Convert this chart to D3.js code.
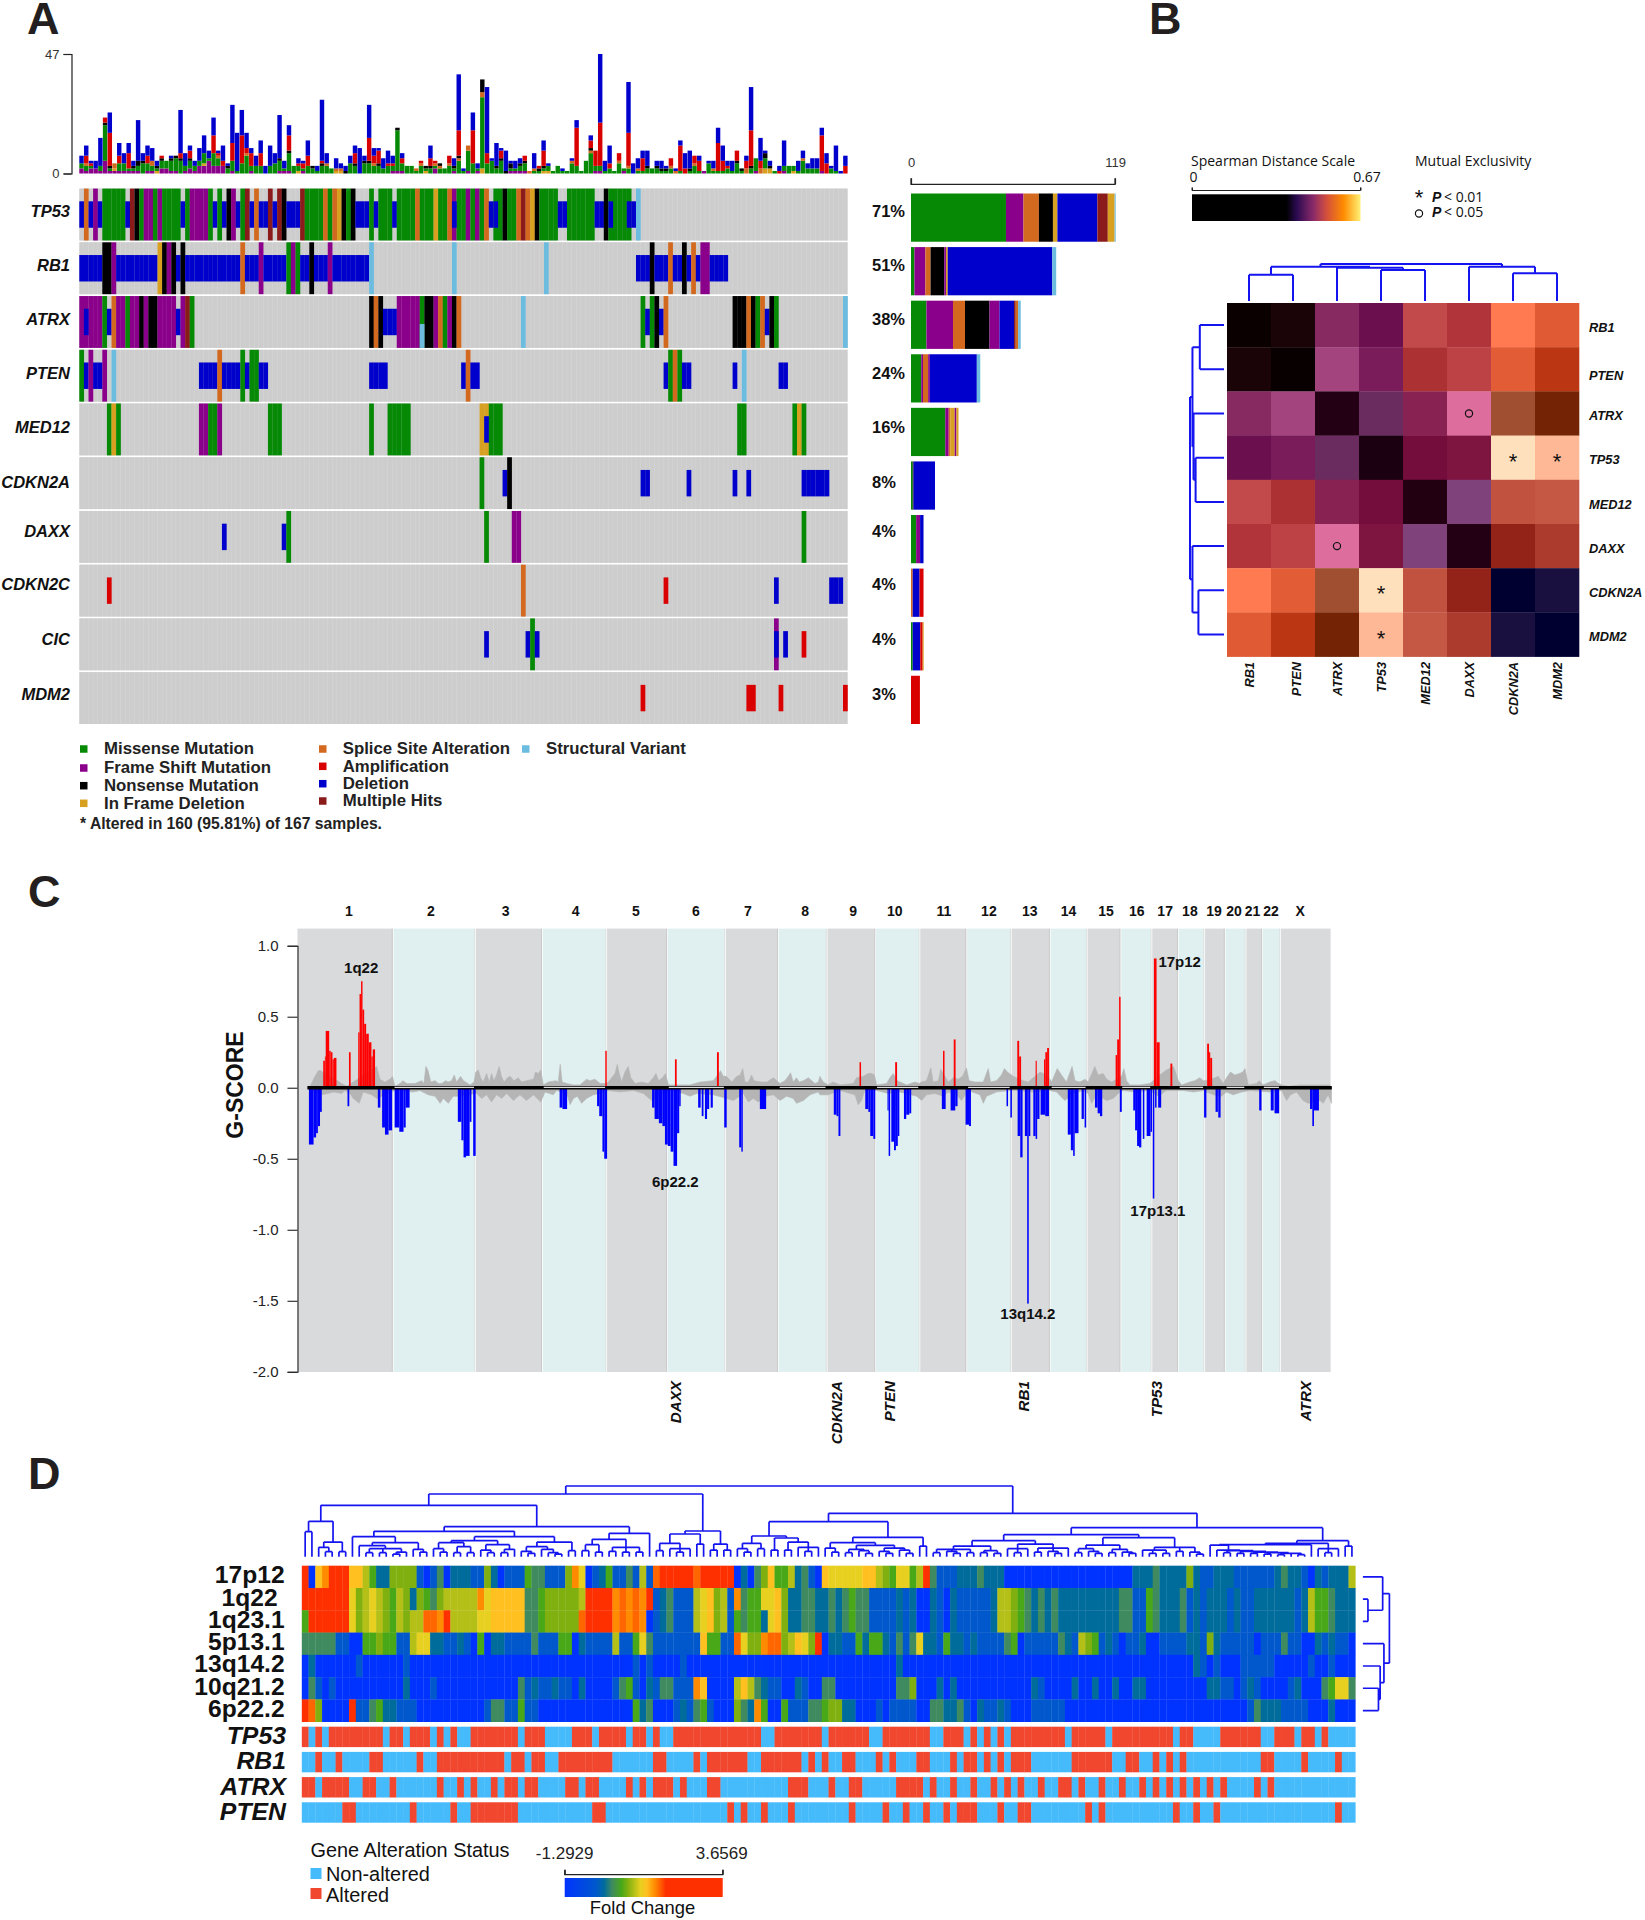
<!DOCTYPE html>
<html><head><meta charset="utf-8"><title>Genomic landscape</title>
<script src="https://cdn.jsdelivr.net/npm/d3@7"></script>
<style>body{margin:0;background:#fff}text{font-family:"Liberation Sans",Arial,sans-serif;fill:#111}</style>
</head><body><div id="c"></div><script>
// ---------- Panel A data ----------
const genes=["TP53","RB1","ATRX","PTEN","MED12","CDKN2A","DAXX","CDKN2C","CIC","MDM2"];
const percents=["71%","51%","38%","24%","16%","8%","4%","4%","4%","3%"];
const sampleCount=167;
const onco_TP53="D0 S1 D2 F3 D4 M5 D10 H11 N12 M13 F14 M16 F17 M18 D22 M23 F24 M28 D29 M30 D31 N32 F33 D34 M35 H36 D37 S38 D39 H41 D42 H43 N44 D45 H48 M49 S53 M54 S55 I56 N57 M58 N59 D60 M63 D64 M65 D68 M69 S73 M74 I77 M78 S80 F81 M82 F84 M85 F86 M87 S88 D89 M90 N92 M93 S95 H96 S97 I98 N99 M100 D104 M106 D112 N114 M115 D120 V121 .122";
const onco_RB1="D0 N5 F7 D8 I17 N18 F19 N20 D21 N22 D23 S35 D36 F39 D40 M45 F46 M47 D48 N50 D51 F54 D55 V63 .64 V81 .82 V101 .102 D121 N124 D125 S128 D129 N131 D132 S133 D134 F135 D137 .141";
const onco_ATRX="F0 M5 D6 S7 F8 M10 F11 N13 F14 N15 F17 D21 F22 H23 M24 .25 N63 S64 N65 D66 F69 M74 N75 F77 S78 M79 F80 N81 S82 .83 V96 .97 M122 D123 M124 N125 D126 S127 .128 N142 S145 N146 M147 S148 D149 N150 M151 .152 V166";
const onco_PTEN="M0 D1 F2 D3 F5 .6 V7 .8 D26 S30 D31 M35 D36 M37 D39 .41 D63 .67 D83 S84 D85 .87 D127 M128 S129 M130 D131 .133 D142 .143 V144 .145 D152 .154";
const onco_MED12="M6 I7 M8 .9 F26 M28 F30 .31 M41 .44 M63 .64 M67 .72 I87 M89 .92 M143 .145 M155 I156 M157 .158";
const onco_CDKN2A="M87 .88 D92 N93 .94 D122 .124 D132 .133 D142 .143 D145 .146 D157 .163";
const onco_DAXX="D31 .32 D44 M45 .46 M88 .89 F94 .96 M157 .158";
const onco_CDKN2C="A6 .7 S96 .97 A127 .128 D151 .152 D163 .166";
const onco_CIC="D88 .89 D97 M98 D99 .100 F151 .152 D153 .154 A157 .158";
const onco_MDM2="A122 .123 A145 .147 A152 .153 A166";
const oncoRows=[onco_TP53,onco_RB1,onco_ATRX,onco_PTEN,onco_MED12,onco_CDKN2A,onco_DAXX,onco_CDKN2C,onco_CIC,onco_MDM2];
const oncoOverlays=[["TP53",81,"D"],["TP53",90,"D"],["TP53",115,"D"],["TP53",119,"D"],["ATRX",1,"D"],["ATRX",74,"V"],["MED12",88,"D"],["CIC",151,"D"]];
const topBars=["F2M2D3","F1M2S1A3D4","F2M1A1D1","F2D3","F1M2D11","F5M14N1A2","F1M1N1A13D8","F1I1S2","F1M3A3D5","F1M3D4","F1M1A6D4","F1M1N1D2","F1M2N2D16","M4N1D3","F1M3A3D4","F1M2S2D5","I1M1N1D2","F2M3N1A1","F2M3","F1M4N1D1","F1M5N1","M5N1A2D17","F1M2D5","F2M3N1A3D2","F1M2D2","F3M2D5","F3M4I1D7","F5M1D3","F3M5A7D7","F3M3S1A1D1","F3A2D6","M2N1D1","F1M4A7D15","M1D15","M4A11D10","M7S1A2D6","F1M2A5D2","M3D4","M3A5D5","D3","M3D8","M4D4","F1M4N1D17","F1M1D3","F1M7N1A6D4","M3","I1M2A1D2","F1M1A2D1","M3A4D6","M2N1","M1D2","M3N1A1D24","M3S1D4","M2","S1I1D4","I1S1D2","N1D2","M4D3","M3N1A4D3","D10","M4N1D2","M4N1A9D13",
"M3S1A3D3","M3N1A5D1","M2D4","M3A1D5","F1M2A1D3","F1M16N1","F1M3A2D2","M3","M3","M1S1","M3S1A1","M1I1N1","M2N1A3D5","F2M1S1A1","M2N1S1","M2",
"M3S1A3","F1M1N1D3","M5N1S1A10D22","M1D1","F1M8S2","M4A13D7","F1M1D2","I2M28N5S2","M4A4D26","M5D1","M2N1D9","M5N1A3D1","N1D8","F1M1N2D1","F1M1D3","F1M2N1D2","F1M3N1A2","S1","S1M1D6","M1N1A1","I1M1N1A6D4","I1M2D1","M1","M3","M1D1","M1","M4S1D1","M3A15D3","M1","M5","M8N1S1A3D2","F1M2A6","F1M2A17D27","M1D4","M2A2D7","M1","M4S1A3","F1M1","M2S1A13D20","D4","M1S1D4","M1A5D3","M2N1D6","M2","M2N1D2","M1N1D3","M1N1D1","S1M2A3","S1D1","M1A10D2","A2D6","M1N1D7","M3S1A3","M1A4D2","F1","M4D1","M1S1D3","M1A11D6","M1A4D6","M2A1D2","M1D4","M4N1A4","M1N1","S2A3D2","M2N1A14D17","F1M5","S2A3D9","I2M4N2D1","I2N1D2","M1","A1D2","F1M2D10","M3","M2I1","M1D4","M5S1D3","M2D2","M2D4","M2D4","F1A14D3","A4D4","M2D1","M1D10","D1","A3D4"];
const side_TP53=[["M",55.4],["F",10.2],["S",9],["N",8.2],["I",2.6],["D",23.3],["H",6.1],["I",4],["V",.6]];
const side_RB1=[["M",2],["F",6.4],["S",3],["N",8],["F",1],["I",1],["D",61],["V",2.3]];
const side_ATRX=[["M",9],["F",15.5],["S",7],["N",14.3],["F",5.8],["D",8.5],["H",1],["S",1.4],["V",1.5]];
const side_PTEN=[["M",6],["F",1],["S",3],["F",1],["D",27.4],["V",2]];
const side_MED12=[["M",20],["F",2],["S",1],["I",2.5],["F",1],["I",1.2]];
const side_CDKN2A=[["M",1],["N",.5],["D",12.5]];
const side_DAXX=[["M",3],["F",2.3],["D",2]];
const side_CDKN2C=[["S",1],["D",4],["A",2.3]];
const side_CIC=[["M",1],["D",4.4],["A",1.4],["I",.6]];
const side_MDM2=[["A",5.2]];
const sideBars=[side_TP53,side_RB1,side_ATRX,side_PTEN,side_MED12,side_CDKN2A,side_DAXX,side_CDKN2C,side_CIC,side_MDM2];
const typeCodes=["M","F","N","I","S","A","D","H","V"];
const typeColors=["#068a06","#8b008b","#000000","#d8a021","#d2691e","#d90000","#0000cd","#8b1a1a","#6cbce0"];
const legendCol1=[["M","Missense Mutation"],["F","Frame Shift Mutation"],["N","Nonsense Mutation"],["I","In Frame Deletion"]];
const legendCol2=[["S","Splice Site Alteration"],["A","Amplification"],["D","Deletion"],["H","Multiple Hits"]];
const legendCol3=[["V","Structural Variant"]];
// ---------- Panel B data ----------
const corrGenes=["RB1","PTEN","ATRX","TP53","MED12","DAXX","CDKN2A","MDM2"];
const corrMatrix=[
[.03,.04,.19,.12,.32,.28,.42,.37],
[.04,.02,.25,.14,.26,.30,.38,.29],
[.19,.25,.07,.10,.20,.35,.24,.16],
[.12,.14,.10,.05,.13,.15,.60,.50],
[.32,.26,.20,.13,.06,.18,.31,.33],
[.28,.30,.35,.15,.18,.07,.22,.27],
[.42,.38,.24,.60,.31,.22,.00,.01],
[.37,.29,.16,.50,.33,.27,.01,.00]];
const heatDomain=[0,.01,.02,.03,.04,.05,.06,.07,.10,.12,.13,.14,.15,.16,.18,.19,.20,.22,.24,.25,.26,.27,.28,.29,.30,.31,.32,.33,.35,.37,.38,.42,.50,.60];
const heatRange=["#000030","#1a1040","#080000","#0a0000","#1a0408","#1a0010","#220012","#240014","#6a2c5e","#6b0f4f","#740c3c","#7b1c5a","#7e1440","#742404","#80427a","#872a62","#882253","#932318","#a05030","#a4447f","#ac3132","#ac3a2d","#b03439","#bb3714","#bd4246","#c25240","#c34a4a","#c45845","#dc6d9c","#e05a33","#e25c36","#ff7a50","#ffb896","#ffe0bc"];
const sigStars=[[3,6],[3,7],[6,3],[7,3]];
const sigCircles=[[2,5],[5,2]];
const corrTree=[97,[90,[69,"RB1","PTEN"],[87,"ATRX",[81,"TP53","MED12"]]],[90,"DAXX",[73,"CDKN2A","MDM2"]]];
const spearmanStops=[[0,"#000"],[.56,"#000"],[.62,"#2a0a50"],[.72,"#8a2a6a"],[.8,"#d4503c"],[.9,"#ff8c00"],[1,"#fff176"]];
// ---------- Panel C data ----------
const chromNames=["1","2","3","4","5","6","7","8","9","10","11","12","13","14","15","16","17","18","19","20","21","22","X"];
const chromLengths=[291,250,202,195,184,176,160,148,147,134,142,135,118,112,102,94,80,80,62,63,50,55,154];
const chromLabelPos=[156,404,631,843,1025,1207,1365,1538,1684,1810,1959,2095,2219,2336,2450,2543,2629,2704,2777,2838,2894,2950,3038];
const ampSegments=[[78,83,.19],[83,85.5,.22],[85.5,96,.40],[96,100.6,.26],[100.6,106,.25],[106,110,.20],[110,118,.21],[156,161,.25],[184,188,.39],[188,192.6,.66],[192.6,197,.75],[197,202,.55],[202,208,.45],[208,216,.38],[216,224,.32],[224,228,.22],[228,235,.27],[932.7,937,.26],[1143.7,1149,.20],[1271,1276.7,.25],[1703,1707.6,.18],[1811,1816.7,.18],[1956,1960.5,.26],[1988.4,1994,.34],[2181,2186.7,.33],[2186.7,2192.5,.22],[2236.6,2240,.19],[2262,2266,.20],[2266,2271.4,.25],[2271.4,2277,.28],[2479,2483.7,.23],[2483.7,2489.5,.34],[2489.5,2494,.64],[2595,2603,.91],[2603,2612.4,.32],[2645,2650.7,.17],[2756.3,2762,.31],[2762,2765.6,.25],[2765.6,2771.4,.21]];
const delSegments=[[34.6,48.7,-.40],[48.7,56.3,-.35],[56.3,61.7,-.32],[61.7,68.2,-.27],[68.2,73.6,-.17],[151.5,156.9,-.13],[243.4,251,-.14],[256.4,265,-.28],[265,275.9,-.33],[275.9,286.7,-.30],[294.3,308.4,-.28],[308.4,321.3,-.31],[321.3,327.8,-.28],[327.8,339.7,-.14],[485.8,496.6,-.24],[496.6,503.1,-.37],[503.1,510.7,-.49],[510.7,521.5,-.48],[521.5,527,-.24],[532.3,539.9,-.48],[794.2,802.8,-.14],[802.8,816.9,-.15],[907.8,914.3,-.13],[914.3,924,-.20],[924,929.4,-.45],[929.4,938.1,-.50],[1074.4,1082,-.14],[1082,1095,-.22],[1095,1105.8,-.25],[1105.8,1113.4,-.27],[1113.4,1122,-.40],[1122,1130.7,-.41],[1130.7,1139.3,-.45],[1139.3,1150.2,-.55],[1150.2,1156.6,-.32],[1156.6,1161,-.13],[1214,1221.6,-.14],[1224.8,1230.2,-.20],[1234.5,1241,-.22],[1241,1247.5,-.15],[1251.9,1258.4,-.14],[1293,1300.5,-.28],[1338.4,1344.9,-.42],[1344.9,1349.2,-.45],[1401,1420,-.15],[1625,1633.4,-.19],[1633.4,1639.2,-.20],[1639.2,1645,-.34],[1720.4,1729.7,-.15],[1729.7,1735.5,-.17],[1735.5,1744.8,-.34],[1744.8,1750.6,-.36],[1787.7,1791.2,-.16],[1791.2,1795.8,-.48],[1799.3,1807.4,-.38],[1807.4,1813.2,-.44],[1813.2,1819,-.41],[1819,1823.6,-.34],[1837.6,1844.5,-.22],[1844.5,1853.8,-.19],[1853.8,1859.6,-.18],[1952.4,1964,-.15],[1979,1993,-.16],[1993,2000,-.13],[2024.3,2034.8,-.26],[2034.8,2040.6,-.27],[2148.4,2153,-.13],[2160,2164.7,-.21],[2182,2190,-.34],[2190,2197,-.49],[2204,2211,-.34],[2211,2215.7,-1.52],[2215.7,2220.4,-.34],[2229.6,2236.6,-.34],[2236.6,2241.2,-.36],[2241.2,2248.2,-.22],[2251.7,2265.6,-.19],[2265.6,2277,-.20],[2334,2343.3,-.33],[2343.3,2350.3,-.44],[2350.3,2355,-.48],[2355,2366.5,-.32],[2375.8,2382.8,-.22],[2385,2389.7,-.28],[2416.4,2424.5,-.14],[2424.5,2431.5,-.18],[2431.5,2438.4,-.20],[2491.8,2497.6,-.17],[2532.4,2538,-.16],[2538,2544,-.30],[2544,2549.8,-.41],[2549.8,2556.8,-.42],[2561.4,2566,-.36],[2573,2584.6,-.34],[2584.6,2589.2,-.31],[2591.6,2596.2,-.78],[2598.5,2603,-.14],[2607.8,2617,-.14],[2747,2754,-.21],[2781.8,2788.8,-.17],[2790,2797,-.21],[2914,2921,-.16],[2949,2958,-.16],[2960.4,2974.4,-.18],[3068,3075,-.15],[3075,3080,-.27],[3080,3095,-.16]];
const grayUpper=[[38,.01],[53,.08],[63,.12],[70,.12],[134,.03],[149,.01],[169,.04],[240,.15],[250,.06],[265,.04],[280,.06],[288,.08],[295,.01],[311,.03],[319,.05],[331,.03],[356,.03],[376,.05],[383,.03],[389,.15],[395,.125],[404,.04],[417,.05],[427,.03],[437,.03],[449,.05],[457,.04],[467,.05],[475,.09],[482,.04],[494,.08],[503,.05],[523,.02],[535,.04],[540,.11],[548,.125],[555,.07],[563,.04],[573,.10],[581,.04],[588,.10],[595,.05],[603,.09],[611,.15],[618,.08],[626,.04],[636,.07],[644,.08],[656,.05],[669,.07],[679,.04],[694,.05],[715,.06],[721,.11],[730,.10],[737,.125],[745,.02],[760,.04],[783,.05],[790,.04],[796,.165],[802,.04],[816,.03],[836,.02],[856,.02],[876,.06],[886,.05],[901,.06],[917,.03],[932,.03],[942,.04],[952,.07],[962,.10],[969,.165],[975,.10],[982,.04],[992,.11],[1002,.15],[1010,.07],[1023,.03],[1043,.04],[1063,.03],[1078,.07],[1086,.10],[1094,.05],[1106,.07],[1115,.10],[1124,.02],[1149,.02],[1189,.02],[1220,.04],[1260,.05],[1270,.08],[1282,.12],[1290,.08],[1300,.08],[1316,.04],[1331,.08],[1341,.09],[1349,.135],[1356,.04],[1366,.04],[1376,.09],[1383,.05],[1406,.04],[1422,.04],[1442,.07],[1462,.03],[1477,.05],[1487,.08],[1494,.105],[1502,.04],[1512,.07],[1520,.04],[1533,.05],[1548,.07],[1568,.03],[1578,.04],[1583,.08],[1593,.04],[1608,.02],[1623,.04],[1644,.02],[1684,.03],[1694,.07],[1714,.08],[1729,.10],[1740,.10],[1748,.09],[1755,.02],[1785,.03],[1795,.07],[1805,.10],[1817,.05],[1846,.02],[1871,.04],[1884,.03],[1891,.04],[1906,.05],[1919,.14],[1926,.04],[1942,.05],[1949,.13],[1962,.08],[1972,.04],[1987,.07],[2002,.06],[2015,.08],[2027,.14],[2035,.05],[2053,.04],[2078,.04],[2093,.135],[2100,.04],[2118,.05],[2133,.09],[2142,.135],[2151,.11],[2169,.08],[2199,.05],[2214,.04],[2250,.11],[2260,.10],[2275,.08],[2285,.04],[2302,.135],[2315,.09],[2330,.04],[2347,.15],[2356,.05],[2371,.04],[2386,.06],[2396,.04],[2416,.15],[2426,.09],[2441,.10],[2452,.06],[2467,.04],[2497,.08],[2504,.135],[2512,.05],[2522,.02],[2553,.02],[2583,.03],[2613,.09],[2633,.125],[2654,.15],[2662,.10],[2669,.05],[2679,.02],[2704,.04],[2719,.05],[2734,.07],[2745,.05],[2750,.05],[2780,.07],[2790,.08],[2805,.03],[2815,.07],[2827,.11],[2840,.09],[2854,.10],[2864,.11],[2871,.135],[2881,.02],[2906,.03],[2914,.05],[2926,.02],[2946,.04],[2962,.05],[2972,.03],[2982,.02],[3002,.01],[3037,.02],[3128,.02]];
const grayLower=[[38,-.02],[73,-.05],[93,-.04],[109,-.03],[134,-.04],[144,-.02],[159,-.04],[169,-.075],[187,-.11],[199,-.03],[225,-.05],[240,-.075],[295,-.02],[351,-.03],[371,-.02],[396,-.05],[417,-.06],[432,-.11],[442,-.075],[457,-.11],[472,-.06],[487,-.06],[543,-.04],[558,-.075],[573,-.05],[588,-.10],[603,-.05],[619,-.075],[634,-.04],[654,-.09],[674,-.05],[694,-.09],[715,-.05],[737,-.10],[750,-.03],[775,-.05],[785,-.02],[816,-.04],[826,-.12],[836,-.075],[848,-.06],[861,-.11],[876,-.075],[896,-.05],[917,-.04],[942,-.02],[977,-.03],[1018,-.02],[1048,-.04],[1073,-.09],[1129,-.02],[1169,-.04],[1189,-.06],[1210,-.04],[1260,-.05],[1300,-.075],[1321,-.09],[1351,-.04],[1366,-.10],[1381,-.075],[1396,-.10],[1417,-.06],[1442,-.05],[1462,-.09],[1482,-.06],[1502,-.075],[1512,-.11],[1533,-.09],[1553,-.05],[1578,-.03],[1583,-.05],[1608,-.05],[1644,-.02],[1689,-.05],[1699,-.12],[1709,-.09],[1719,-.02],[1755,-.02],[1790,-.04],[1825,-.03],[1876,-.06],[1884,-.075],[1891,-.09],[1906,-.05],[1931,-.04],[1957,-.06],[1972,-.03],[1997,-.05],[2012,-.09],[2032,-.02],[2068,-.05],[2078,-.11],[2088,-.06],[2118,-.03],[2159,-.02],[2174,-.02],[2229,-.03],[2280,-.02],[2300,-.03],[2325,-.09],[2351,-.04],[2381,-.02],[2396,-.04],[2406,-.11],[2421,-.05],[2452,-.09],[2472,-.075],[2487,-.04],[2502,-.02],[2537,-.03],[2583,-.02],[2608,-.06],[2633,-.02],[2664,-.02],[2684,-.02],[2714,-.03],[2745,-.02],[2755,-.03],[2775,-.05],[2800,-.06],[2815,-.03],[2835,-.05],[2861,-.03],[2886,-.02],[2946,-.03],[2982,-.02],[2997,-.09],[3009,-.05],[3027,-.03],[3047,-.09],[3063,-.11],[3098,-.09],[3108,-.11],[3123,-.05],[3133,-.11]];
const peakLabels=[["1q22",193,.835],["6p22.2",1145,-.67],["17p12",2673,.88],["17p13.1",2607,-.875],["13q14.2",2213,-1.6]];
const geneMarks=[["DAXX",1151],["CDKN2A",1637],["PTEN",1798],["RB1",2204],["TP53",2607],["ATRX",3059]];
// ---------- Panel D data ----------
const cytobands=["17p12","1q22","1q23.1","5p13.1","13q14.2","10q21.2","6p22.2"];
const foldRow1="b089bbb886422555510130222115201114331115970124113161abbbbbabbbbb02"+"03584462310"+"87777788"+"6547746b"+"31112223222"+"0000000000000000000"+"2223222252"+"11222"+"111111"+"2322"+"1021"+"2226";
const foldRow2="bbbbbbb"+"756765465"+"25435"+"66666"+"978"+"8888"+"334"+"55555"+"6"+"bbbb"+"9a9a9"+"b"+"123"+"111"+"678561"+"93"+"447785"+"2233223234"+"3311112120"+"0210211111"+"2"+"6654323232"+"2222222233"+"1143222312"+"1222121122"+"222212"+"6443222";
const foldRow3="4bbbbbb"+"756765465"+"66"+"aa"+"9"+"b"+"6666"+"77"+"8"+"888"+"8"+"33"+"4"+"55555"+"a"+"b"+"bbb"+"9a9a9"+"0"+"123"+"111"+"678561"+"43"+"442785"+"2233223234"+"3311112120"+"0210211111"+"2"+"6654323232"+"2222222233"+"1143222312"+"1222121122"+"222212"+"6443222";
const foldRow4="33333"+"11"+"00"+"44"+"544"+"11"+"677"+"221121040"+"2211113111"+"4402"+"1111611473"+"1111111"+"84411"+"a7"+"559aa56875b"+"0221142442"+"1313722142"+"2121111340"+"1111132165"+"4121011200"+"1111221521"+"1111011131"+"100212110";
const foldRow5="0200000010"+"0000010000"+"0000000000"+"0000000000"+"0000000001"+"0100001000"+"0000000000"+"0000000000"+"0000000020"+"0000000000"+"0000000000"+"0000000000"+"0000000000"+"0021010001"+"1111000001"+"001000";
const foldRow6="0310100000"+"0000020001"+"0000000000"+"0031211211"+"0200001341"+"0213311198"+"0000686321"+"1002100330"+"0000000033"+"5000202000"+"0000000021"+"0000200200"+"2002200000"+"0000221101"+"2100001200"+"034773";
const foldRow7="ba50000b11"+"3422111000"+"0000000133"+"1141100000"+"0000000004"+"2300012134"+"1000532940"+"0411133455"+"2200010111"+"1003322310"+"2112100011"+"1110000000"+"0000000000"+"0000000000"+"1322211110"+"002000";
const foldRows=[foldRow1,foldRow2,foldRow3,foldRow4,foldRow5,foldRow6,foldRow7];
const foldColors=["#0033ff","#0058cc","#006c9c","#408a60","#48a818","#80b010","#b4c018","#e8d020","#ffc020","#ff8c00","#ff6600","#ff3000"];
const foldStops=[0,.2,.25,.3,.36,.4,.44,.48,.52,.57,.6,.64];
const caseCount=156;
const altTracks=["TP53","RB1","ATRX","PTEN"];
const alt_TP53=[[0,1],[2,3],[4,12],[13,15],[16,19],[20,21],[22,23],[25,32],[33,36],[40,43],[44,48],[49,51],[52,53],[55,68],[70,77],[78,84],[86,93],[95,98],[99,100],[101,102],[103,104],[105,113],[114,119],[120,129],[130,132],[136,142],[144,147],[148,150],[151,152]];
const alt_RB1=[[2,3],[5,6],[10,12],[17,18],[20,30],[31,33],[34,36],[38,46],[52,54],[58,59],[60,66],[68,74],[75,76],[77,78],[80,82],[85,86],[87,88],[91,93],[96,97],[98,100],[101,102],[103,104],[105,108],[114,120],[122,124],[126,127],[128,129],[130,131],[142,144],[148,149],[153,154]];
const alt_ATRX=[[0,2],[3,7],[9,11],[13,14],[20,21],[23,24],[25,26],[28,29],[30,32],[33,35],[39,41],[42,44],[48,49],[50,51],[52,55],[56,57],[60,62],[72,75],[78,79],[81,83],[88,92],[93,94],[96,97],[99,100],[102,103],[104,105],[106,107],[109,110],[112,114],[115,116],[118,119],[121,122],[124,125],[126,127],[128,129],[130,131],[132,133],[134,135],[136,137],[141,142],[143,144]];
const alt_PTEN=[[6,8],[16,17],[22,23],[25,32],[43,45],[63,64],[65,66],[68,69],[72,73],[81,82],[86,87],[89,90],[92,93],[95,96],[97,100],[103,104],[106,108],[116,117],[118,119],[129,130],[132,133],[135,136],[153,154]];
const altRuns=[alt_TP53,alt_RB1,alt_ATRX,alt_PTEN];
const caseTree=[212,
 [188,
  [154,
   [106,[75,1,1],[44,[28,1,[15,1,1]],[15,1,1]]],
   [90,
    [76,
     [60,1,[42,[33,1,[24,[12,1,1],[12,1,1],[14,[8,1,1],1]]],[22,1,[14,1,1]]]],
     [60,[48,[42,[24,1,[14,1,1]],[30,[12,1,1],[12,1,1]]],[36,[20,1,[12,1,1]],[22,[12,1,1],1]]],[44,[30,[16,1,[10,1,1]],[22,1,[12,1,[8,1,1]]]],[18,1,1]]]],
    [70,[52,[36,[18,1,1],[14,1,1]],[28,[16,1,1],[14,1,1],[14,1,1]]],1]]],
  [77,[68,[40,[18,1,1],[24,1,[14,1,1],1]],[38,1,1]],[38,[20,1,1],[20,1,1]]]],
 [130,
  [105,
   [62,[40,[24,1,[14,1,1]],[24,1,1]],[56,[20,1,1],[44,[20,1,1],[28,1,[16,1,1],1]]]],
   [58,[42,[26,1,[14,1,1]],[34,[22,[12,1,1],[18,1,[10,1,1]]],[26,[16,1,[10,1,1]],[20,1,[10,1,1]]]]],[32,1,1]]],
  [87,
   [66,
    [48,[32,[22,[12,1,1],[16,1,[10,1,1]],[12,1,1]],[18,[12,1,1],[10,1,1]]],[38,[24,1,[12,1,1],1],[26,[14,1,1],[16,1,[10,1,1]],1]]],
    [57,[35,[24,[12,1,1],[16,1,[10,1,1]]],[22,[12,1,1],[14,1,[10,1,1]]]],[28,[20,1,[10,1,1],[10,1,1]],[16,1,1],[14,1,[8,1,1]]]]],
   [48,
    [40,
     [36,
      [35,1,[20,1,[18,[12,1,1],[16,[10,1,1],[14,[10,1,1],[12,[8,1,1],[10,[6,1,1],[10,1,[6,1,1]]]]]]]]],
      1],
     [24,1,[12,1,1],1]],
    [32,1,1]]]]];
const bandTree=[63,[47,1,[12,1,1]],[50,1,[41,1,[37,1,1]]]];

// ---------- Drawing ----------
const svg=d3.select("#c").append("svg").attr("width",1645).attr("height",1920).style("display","block");
const BLUE="#1414f0";
const boldIt=(s,size)=>s.attr("font-weight","bold").attr("font-style","italic").attr("font-size",size);
function dendro(tree,leafPos,hPos,horizontalLeaves){
  const root=d3.hierarchy(tree,d=>Array.isArray(d)?d.slice(1):null);
  root.leaves().forEach((n,i)=>{n.pos=leafPos(i,n);n.ht=0;});
  root.eachAfter(n=>{if(n.children){n.pos=(n.children[0].pos+n.children[n.children.length-1].pos)/2;n.ht=n.data[0];}});
  const p=d3.path();
  root.descendants().filter(n=>n.children).forEach(n=>{
    const pt=(a,b)=>horizontalLeaves?[a,b]:[b,a];
    const h=hPos(n.ht);
    p.moveTo(...pt(n.children[0].pos,h));p.lineTo(...pt(n.children[n.children.length-1].pos,h));
    n.children.forEach(c=>{p.moveTo(...pt(c.pos,hPos(c.ht)));p.lineTo(...pt(c.pos,h));});
  });
  return p.toString();
}
[["A",27,34],["B",1149,34],["C",28,907],["D",28,1489]].forEach(([t,x,y])=>svg.append("text").text(t).attr("x",x).attr("y",y).attr("font-weight","bold").attr("font-size",45).style("fill","#231f20"));

// Panel A
const typeColor=d3.scaleOrdinal(typeCodes,typeColors);
const A=svg.append("g");
function parseRow(s){const out=new Array(sampleCount).fill(".");const toks=s.split(" ").map(t=>[t[0],+t.slice(1)]);
  toks.forEach(([c,st],i)=>{const e=i+1<toks.length?toks[i+1][1]:st+1;for(let k=st;k<e;k++)out[k]=c;});
  return out;}
const xS=d3.scaleBand().domain(d3.range(sampleCount)).range([79.3,847.6]);
const yG=d3.scaleBand().domain(genes).range([188.6,724]).paddingInner(.035);
const midH=yG.bandwidth()*.51,midOff=(yG.bandwidth()-midH)/2;
genes.forEach((g,gi)=>{
  const row=A.append("g").attr("transform",`translate(0,${yG(g)})`);
  row.append("rect").attr("x",79.3).attr("width",768.3).attr("height",yG.bandwidth()).attr("fill","#d8d8d8");
  row.selectAll("rect.c").data(parseRow(oncoRows[gi])).join("rect").attr("class","c")
    .attr("x",(d,i)=>xS(i)+.2).attr("width",xS.bandwidth()-.4)
    .attr("y",0).attr("height",yG.bandwidth()).attr("fill","#cdcdcd");
  const marks=parseRow(oncoRows[gi]).map((c,i)=>({c,i})).filter(d=>d.c!==".");
  row.selectAll("rect.m").data(marks).join("rect").attr("class","m")
    .attr("x",d=>xS(d.i)).attr("width",xS.bandwidth()+.15)
    .attr("y",d=>"AD".includes(d.c)?midOff:0).attr("height",d=>"AD".includes(d.c)?midH:yG.bandwidth())
    .attr("fill",d=>typeColor(d.c));
  row.selectAll("rect.o").data(oncoOverlays.filter(o=>o[0]===g)).join("rect").attr("class","o")
    .attr("x",d=>xS(d[1])).attr("width",xS.bandwidth()+.15)
    .attr("y",d=>d[2]==="V"?yG.bandwidth()/2+2:midOff).attr("height",d=>d[2]==="V"?yG.bandwidth()/2-2:midH)
    .attr("fill",d=>typeColor(d[2]));
});
const rowLabelY=[213,267,320.5,374.5,428.5,484,532.5,585.5,640.5,695.5];
A.selectAll("text.g").data(genes).join("text").attr("class","g").text(d=>d).attr("x",70).attr("y",(d,i)=>rowLabelY[i]).call(boldIt,16.5).attr("text-anchor","end").attr("dominant-baseline","middle");
A.selectAll("text.p").data(percents).join("text").attr("class","p").text(d=>d).attr("x",872).attr("y",(d,i)=>rowLabelY[i]).attr("font-weight","bold").attr("font-size",16.5).attr("dominant-baseline","middle");
// top stacked bars
const stackKeys=["F","I","M","S","N","A","D"];
const barRows=topBars.map((s,i)=>{const o={i};stackKeys.forEach(k=>o[k]=0);for(const m of s.matchAll(/([A-Z])(\d+)/g))o[m[1]]=+m[2];return o;});
const xB=d3.scaleBand().domain(d3.range(barRows.length)).range([79.3,847.6]).paddingInner(.06);
const yB=d3.scaleLinear().domain([0,47]).range([173.5,54]);
A.selectAll("g.sb").data(d3.stack().keys(stackKeys)(barRows)).join("g").attr("class","sb").attr("fill",d=>typeColor(d.key))
  .selectAll("rect").data(d=>d).join("rect").attr("x",d=>xB(d.data.i)).attr("width",xB.bandwidth()).attr("y",d=>yB(d[1])).attr("height",d=>yB(d[0])-yB(d[1]));
const axA=A.append("g").attr("transform","translate(71.5,0)").call(d3.axisLeft(yB).tickValues([0,47]).tickSize(8).tickPadding(4));
axA.selectAll("text").attr("font-size",13).style("fill","#333").attr("font-family","Liberation Sans");
axA.selectAll("path,line").attr("stroke","#222").attr("stroke-width",1.2);
// side bars
const xSide=d3.scaleLinear().domain([0,119]).range([911,1115]);
const ySide=d3.scaleBand().domain(genes).range([193.5,724]).paddingInner(.1);
genes.forEach((g,gi)=>{let acc=0;const segs=sideBars[gi].map(([t,v])=>{const s={t,a:acc,b:acc+v};acc+=v;return s;});
  A.append("g").selectAll("rect").data(segs).join("rect").attr("x",d=>xSide(d.a)).attr("width",d=>xSide(d.b)-xSide(d.a)).attr("y",ySide(g)).attr("height",ySide.bandwidth()).attr("fill",d=>typeColor(d.t));});
const axS=A.append("g").attr("transform","translate(0,184.3)").call(d3.axisTop(xSide).tickValues([0,119]).tickSize(6).tickPadding(11).tickFormat(d3.format("d")));
axS.selectAll("text").attr("font-size",13).style("fill","#333");
axS.selectAll("path,line").attr("stroke","#222").attr("stroke-width",1.2);
axS.select("path").attr("d",`M911,-6V0H1115V-6`);
// legend
function legendCol(list,sqX,txtX,ys){const g=A.append("g");
  g.selectAll("rect").data(list).join("rect").attr("x",sqX).attr("width",7.5).attr("height",7.5).attr("y",(d,i)=>ys[i]-3.75).attr("fill",d=>typeColor(d[0]));
  g.selectAll("text").data(list).join("text").text(d=>d[1]).attr("x",txtX).attr("y",(d,i)=>ys[i]+1).attr("dominant-baseline","middle").attr("font-weight","bold").attr("font-size",16.8).style("fill","#222");}
legendCol(legendCol1,80,104,[749,768,785.7,803.3]);
legendCol(legendCol2,319,342.7,[749,766.3,783.7,801]);
legendCol(legendCol3,522,546,[749]);
A.append("text").text("* Altered in 160 (95.81%) of 167 samples.").attr("x",80).attr("y",825).attr("dominant-baseline","middle").attr("font-weight","bold").attr("font-size",15.7).style("fill","#222");

// Panel B
const B=svg.append("g");
const xC=d3.scaleBand().domain(corrGenes).range([1227,1579]);
const yC=d3.scaleBand().domain(corrGenes).range([303,656.6]);
const heatColor=d3.scaleLinear().domain(heatDomain).range(heatRange);
const cells=corrMatrix.flatMap((r,i)=>r.map((v,j)=>({v,i,j})));
B.selectAll("rect").data(cells).join("rect").attr("x",d=>xC(corrGenes[d.j])).attr("y",d=>yC(corrGenes[d.i])).attr("width",xC.bandwidth()+.3).attr("height",yC.bandwidth()+.3).attr("fill",d=>heatColor(d.v));
B.selectAll("text.st").data(sigStars).join("text").attr("class","st").text("*").attr("x",d=>xC(corrGenes[d[1]])+xC.bandwidth()/2).attr("y",d=>yC(corrGenes[d[0]])+yC.bandwidth()/2+11).attr("text-anchor","middle").attr("font-size",22);
B.selectAll("circle.ci").data(sigCircles).join("circle").attr("class","ci").attr("cx",d=>xC(corrGenes[d[1]])+xC.bandwidth()/2).attr("cy",d=>yC(corrGenes[d[0]])+yC.bandwidth()/2).attr("r",3.6).attr("fill","none").attr("stroke","#111").attr("stroke-width",1.2);
const corrLabelY=[329,377,417,461,506,550,594,638];
B.selectAll("text.rl").data(corrGenes).join("text").attr("class","rl").text(d=>d).attr("x",1589).attr("y",(d,i)=>corrLabelY[i]).attr("dominant-baseline","middle").call(boldIt,12.8);
B.selectAll("text.cl").data(corrGenes).join("text").attr("class","cl").text(d=>d).attr("transform",d=>`translate(${xC(d)+xC.bandwidth()/2+(d==="PTEN"?7.5:5)},662) rotate(-90)`).attr("text-anchor","end").call(boldIt,12.8);
const hTop=d3.scaleLinear().domain([0,97]).range([301,264]);
const hLeft=d3.scaleLinear().domain([0,97]).range([1224,1190]);
B.append("path").attr("d",dendro(corrTree,(i,n)=>xC(n.data)+xC.bandwidth()/2,h=>hTop(h),true)).attr("fill","none").attr("stroke",BLUE).attr("stroke-width",2);
B.append("path").attr("d",dendro(corrTree,(i,n)=>yC(n.data)+yC.bandwidth()/2,h=>hLeft(h),false)).attr("fill","none").attr("stroke",BLUE).attr("stroke-width",2);
const defs=svg.append("defs");
const gr=defs.append("linearGradient").attr("id","spear");
gr.selectAll("stop").data(spearmanStops).join("stop").attr("offset",d=>d[0]).attr("stop-color",d=>d[1]);
const OS='"Open Sans",sans-serif';
const xSp=d3.scaleLinear().domain([0,.67]).range([1192,1360.5]);
B.append("rect").attr("x",1192).attr("y",194.3).attr("width",168.5).attr("height",26.7).attr("fill","url(#spear)");
const axSp=B.append("g").attr("transform","translate(0,190.5)").call(d3.axisTop(xSp).tickValues([0,.67]).tickSize(3).tickPadding(6).tickFormat(d=>d===0?"0":"0.67"));
axSp.selectAll("text").style("font-family",OS).attr("font-size",14).attr("dx",(d,i)=>i?6:1);
axSp.selectAll("line,path").attr("stroke","#222");
axSp.select("path").attr("d","M1192,-3V0H1360.5V-3");
const tOS=(t,x,y,size=14)=>B.append("text").text(t).attr("x",x).attr("y",y).attr("font-size",size).attr("dominant-baseline","middle").style("font-family",OS);
tOS("Spearman Distance Scale",1191,162.5);
tOS("Mutual Exclusivity",1415,162.5);
B.append("text").text("*").attr("x",1419).attr("y",205).attr("text-anchor","middle").attr("font-size",22);
B.append("circle").attr("cx",1419).attr("cy",213.5).attr("r",3.6).attr("fill","none").attr("stroke","#111").attr("stroke-width",1.2);
[["< 0.01",198],["< 0.05",213]].forEach(([t,y])=>{
  B.append("text").text("P").attr("x",1432).attr("y",y).attr("dominant-baseline","middle").call(boldIt,14);
  tOS(t,1444,y,14);});

// Panel C
const C=svg.append("g");
const xM=d3.scaleLinear().domain([0,3134]).range([297.5,1331.8]);
const yM=d3.scaleLinear().domain([1,-2]).range([945.7,1371.8]);
const chromStarts=Array.from(d3.cumsum([0].concat(chromLengths))).slice(0,23);
const chromRows=chromNames.map((n,i)=>({n,i,s:chromStarts[i],e:chromStarts[i]+chromLengths[i],l:chromLabelPos[i]}));
C.selectAll("rect.ch").data(chromRows).join("rect").attr("class","ch").attr("x",d=>xM(d.s)).attr("width",d=>xM(d.e)-xM(d.s)-1.2).attr("y",928.6).attr("height",1372-928.6).attr("fill",d=>d.i%2?"#e0f0f0":"#d9dadc");
C.selectAll("line.bd").data(chromRows.slice(0,22)).join("line").attr("class","bd").attr("x1",d=>xM(d.e)-1.2).attr("x2",d=>xM(d.e)-1.2).attr("y1",928.6).attr("y2",1372).attr("stroke",d=>d.i%2?"#d5d5d5":"#bcbcbc").attr("stroke-width",.7);
C.selectAll("text.cn").data(chromRows).join("text").attr("class","cn").text(d=>d.n).attr("x",d=>xM(d.l)).attr("y",912.5).attr("text-anchor","middle").attr("dominant-baseline","middle").attr("font-weight","bold").attr("font-size",14);
const grayArea=d3.area().x(d=>xM(d[0])).y0(yM(0)).y1(d=>yM(d[1]));
C.append("path").datum(grayUpper).attr("d",grayArea).attr("fill","#b5b5b5").attr("stroke","#b5b5b5").attr("stroke-width",.6);
C.append("path").datum(grayLower).attr("d",grayArea).attr("fill","#b5b5b5").attr("stroke","#b5b5b5").attr("stroke-width",.6);
C.selectAll("rect.am").data(ampSegments).join("rect").attr("class","am").attr("x",d=>xM(d[0])).attr("width",d=>xM(d[1])-xM(d[0])).attr("y",d=>yM(d[2])).attr("height",d=>yM(0)-yM(d[2])).attr("fill","#ff0000");
C.selectAll("rect.de").data(delSegments).join("rect").attr("class","de").attr("x",d=>xM(d[0])).attr("width",d=>xM(d[1])-xM(d[0])).attr("y",yM(0)).attr("height",d=>yM(d[2])-yM(0)).attr("fill","#0000ff");
C.append("line").attr("x1",xM(30)).attr("x2",xM(3134)).attr("y1",yM(0)).attr("y2",yM(0)).attr("stroke","#000").attr("stroke-width",3.6);
C.selectAll("line.ev").data(chromRows.filter(d=>d.i%2&&d.i<22)).join("line").attr("class","ev").attr("x1",d=>xM(d.s)+1).attr("x2",d=>xM(d.e)-2).attr("y1",yM(0)-.4).attr("y2",yM(0)-.4).attr("stroke","#ddd").attr("stroke-width",1.3);
const axC=C.append("g").attr("transform","translate(297.5,0)").call(d3.axisLeft(yM).tickValues([1,.5,0,-.5,-1,-1.5,-2]).tickSize(10).tickPadding(9).tickFormat(d=>d.toFixed(1)));
axC.selectAll("text").attr("font-size",15).style("fill","#222");
axC.selectAll("path,line").attr("stroke","#222").attr("stroke-width",1.1);
C.append("text").text("G-SCORE").attr("transform","translate(237,1085) rotate(-90)").attr("text-anchor","middle").attr("dominant-baseline","middle").attr("font-weight","bold").attr("font-size",23);
C.selectAll("text.pk").data(peakLabels).join("text").attr("class","pk").text(d=>d[0]).attr("x",d=>xM(d[1])).attr("y",d=>yM(d[2])).attr("text-anchor","middle").attr("dominant-baseline","middle").attr("font-weight","bold").attr("font-size",15);
C.selectAll("text.gm").data(geneMarks).join("text").attr("class","gm").text(d=>d[0]).attr("transform",d=>`translate(${xM(d[1])+4},1381) rotate(-90)`).attr("text-anchor","end").call(boldIt,15.2);

// Panel D
const D=svg.append("g");
const xD=d3.scaleBand().domain(d3.range(caseCount)).range([301.8,1355.3]);
const yD=d3.scaleBand().domain(cytobands).range([1565.7,1721.7]);
const foldColor=d3.scaleLinear().domain(d3.range(12)).range(foldColors);
const foldCells=foldRows.flatMap((s,r)=>Array.from(s).slice(0,caseCount).map((ch,c)=>({r,c,v:parseInt(ch,16)})));
D.selectAll("rect.f").data(foldCells).join("rect").attr("class","f").attr("x",d=>xD(d.c)).attr("width",xD.bandwidth()+.3).attr("y",d=>yD(cytobands[d.r])).attr("height",yD.bandwidth()+.3).attr("fill",d=>foldColor(d.v));
D.selectAll("text.b").data(cytobands).join("text").attr("class","b").text(d=>d).attr("x",284.6).attr("dx",d=>d==="1q22"?-7:0).attr("y",d=>yD(d)+yD.bandwidth()/2).attr("text-anchor","end").attr("dominant-baseline","middle").attr("font-weight","bold").attr("font-size",24.6);
const hCase=d3.scaleLinear().domain([0,212]).range([1556.7,1486]);
D.append("path").attr("d",dendro(caseTree,i=>xD(i)+xD.bandwidth()/2,h=>hCase(h),true)).attr("fill","none").attr("stroke",BLUE).attr("stroke-width",1.7);
const hBand=d3.scaleLinear().domain([0,63]).range([1362.9,1389.4]);
D.append("path").attr("d",dendro(bandTree,i=>yD(cytobands[i])+yD.bandwidth()/2,h=>hBand(h),false)).attr("fill","none").attr("stroke",BLUE).attr("stroke-width",1.7);
const yT=d3.scaleBand().domain(altTracks).range([1726.7,1822.7]).paddingInner(.19);
altTracks.forEach((t,ti)=>{
  const isAlt=new Set(altRuns[ti].flatMap(([a,b])=>d3.range(a,b)));
  D.append("g").selectAll("rect").data(d3.range(caseCount)).join("rect").attr("x",i=>xD(i)).attr("width",xD.bandwidth()+.3).attr("y",yT(t)).attr("height",yT.bandwidth()).attr("fill",i=>isAlt.has(i)?"#f0472e":"#45bbfb");
});
D.selectAll("text.t").data(altTracks).join("text").attr("class","t").text(d=>d).attr("x",286).attr("y",d=>yT(d)+yT.bandwidth()/2+.8).attr("text-anchor","end").attr("dominant-baseline","middle").call(boldIt,24.8);
const txtD=(t,x,y,size,anchor="start")=>D.append("text").text(t).attr("x",x).attr("y",y).attr("font-size",size).attr("text-anchor",anchor).attr("dominant-baseline","middle");
txtD("Gene Alteration Status",310.5,1852,19.9);
D.append("rect").attr("x",310.5).attr("y",1868).attr("width",11).attr("height",11).attr("fill","#45bbfb");
D.append("rect").attr("x",310.5).attr("y",1888).attr("width",11).attr("height",11).attr("fill","#f0472e");
txtD("Non-altered",326,1876,19.9);
txtD("Altered",326,1897,19.9);
const gf=defs.append("linearGradient").attr("id","fold");
gf.selectAll("stop").data(foldStops).join("stop").attr("offset",d=>d).attr("stop-color",(d,i)=>foldColors[i]);
gf.append("stop").attr("offset",1).attr("stop-color",foldColors[11]);
const xF=d3.scaleLinear().domain([-1.2929,3.6569]).range([564.7,722.7]);
D.append("rect").attr("x",564.7).attr("y",1878).attr("width",158).attr("height",19).attr("fill","url(#fold)");
const axF=D.append("g").attr("transform","translate(0,1874.7)").call(d3.axisTop(xF).tickValues([-1.2929,3.6569]).tickSize(5).tickPadding(11).tickFormat(d=>d.toFixed(4)));
axF.selectAll("text").attr("font-size",17).style("fill","#222").attr("dx",(d,i)=>i?-1.5:-.5);
axF.selectAll("path,line").attr("stroke","#222").attr("stroke-width",1.2);
axF.select("path").attr("d","M564.7,-5V0H722.7V-5");
txtD("Fold Change",642.5,1909,18.4,"middle");
</script></body></html>
